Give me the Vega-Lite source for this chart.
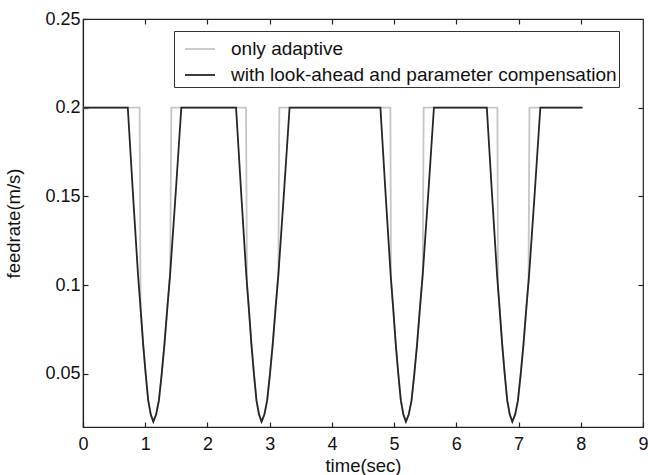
{
  "$schema": "https://vega.github.io/schema/vega-lite/v6.json",
  "width": 560,
  "height": 408,
  "autosize": {"type": "none"},
  "padding": {"left": 83, "top": 19, "right": 5, "bottom": 48},
  "background": "white",
  "config": {
    "font": "Liberation Sans",
    "view": {"stroke": "#222222", "strokeWidth": 1.2},
    "axis": {"grid": false, "tickColor": "#222222", "domainColor": "#222222", "domainWidth": 1.2, "tickWidth": 1.2, "labelColor": "#111111", "titleColor": "#111111", "titleFontWeight": "normal", "labelFont": "Liberation Sans", "titleFont": "Liberation Sans"},
    "legend": {"symbolType": "stroke", "symbolSize": 900, "symbolStrokeWidth": 1.8, "labelFontSize": 19, "labelOffset": 15, "padding": 2, "symbolOffset": 8, "rowPadding": -6, "strokeColor": "#333333", "fillColor": "white", "labelColor": "#111111", "labelFont": "Liberation Sans", "labelLimit": 600}
  },
  "datasets": {
    "gray": [
      {"t": 0, "v": 0.2, "s": "only adaptive"},
      {"t": 0.91, "v": 0.2, "s": "only adaptive"},
      {"t": 0.925, "v": 0.087, "s": "only adaptive"},
      {"t": 0.966, "v": 0.067, "s": "only adaptive"},
      {"t": 1.007, "v": 0.05, "s": "only adaptive"},
      {"t": 1.048, "v": 0.035, "s": "only adaptive"},
      {"t": 1.089, "v": 0.027, "s": "only adaptive"},
      {"t": 1.13, "v": 0.023, "s": "only adaptive"},
      {"t": 1.175, "v": 0.027, "s": "only adaptive"},
      {"t": 1.22, "v": 0.035, "s": "only adaptive"},
      {"t": 1.265, "v": 0.05, "s": "only adaptive"},
      {"t": 1.31, "v": 0.067, "s": "only adaptive"},
      {"t": 1.355, "v": 0.087, "s": "only adaptive"},
      {"t": 1.4, "v": 0.106, "s": "only adaptive"},
      {"t": 1.42, "v": 0.2, "s": "only adaptive"},
      {"t": 2.62, "v": 0.2, "s": "only adaptive"},
      {"t": 2.635, "v": 0.1, "s": "only adaptive"},
      {"t": 2.665, "v": 0.087, "s": "only adaptive"},
      {"t": 2.706, "v": 0.067, "s": "only adaptive"},
      {"t": 2.747, "v": 0.05, "s": "only adaptive"},
      {"t": 2.788, "v": 0.035, "s": "only adaptive"},
      {"t": 2.829, "v": 0.027, "s": "only adaptive"},
      {"t": 2.87, "v": 0.023, "s": "only adaptive"},
      {"t": 2.915, "v": 0.027, "s": "only adaptive"},
      {"t": 2.96, "v": 0.035, "s": "only adaptive"},
      {"t": 3.005, "v": 0.05, "s": "only adaptive"},
      {"t": 3.05, "v": 0.067, "s": "only adaptive"},
      {"t": 3.095, "v": 0.087, "s": "only adaptive"},
      {"t": 3.14, "v": 0.106, "s": "only adaptive"},
      {"t": 3.155, "v": 0.2, "s": "only adaptive"},
      {"t": 4.94, "v": 0.2, "s": "only adaptive"},
      {"t": 4.95, "v": 0.103, "s": "only adaptive"},
      {"t": 4.985, "v": 0.087, "s": "only adaptive"},
      {"t": 5.026, "v": 0.067, "s": "only adaptive"},
      {"t": 5.067, "v": 0.05, "s": "only adaptive"},
      {"t": 5.108, "v": 0.035, "s": "only adaptive"},
      {"t": 5.149, "v": 0.027, "s": "only adaptive"},
      {"t": 5.19, "v": 0.023, "s": "only adaptive"},
      {"t": 5.235, "v": 0.027, "s": "only adaptive"},
      {"t": 5.28, "v": 0.035, "s": "only adaptive"},
      {"t": 5.325, "v": 0.05, "s": "only adaptive"},
      {"t": 5.37, "v": 0.067, "s": "only adaptive"},
      {"t": 5.415, "v": 0.087, "s": "only adaptive"},
      {"t": 5.46, "v": 0.106, "s": "only adaptive"},
      {"t": 5.475, "v": 0.2, "s": "only adaptive"},
      {"t": 6.66, "v": 0.2, "s": "only adaptive"},
      {"t": 6.67, "v": 0.1, "s": "only adaptive"},
      {"t": 6.695, "v": 0.087, "s": "only adaptive"},
      {"t": 6.736, "v": 0.067, "s": "only adaptive"},
      {"t": 6.777, "v": 0.05, "s": "only adaptive"},
      {"t": 6.818, "v": 0.035, "s": "only adaptive"},
      {"t": 6.859, "v": 0.027, "s": "only adaptive"},
      {"t": 6.9, "v": 0.023, "s": "only adaptive"},
      {"t": 6.945, "v": 0.027, "s": "only adaptive"},
      {"t": 6.99, "v": 0.035, "s": "only adaptive"},
      {"t": 7.035, "v": 0.05, "s": "only adaptive"},
      {"t": 7.08, "v": 0.067, "s": "only adaptive"},
      {"t": 7.125, "v": 0.087, "s": "only adaptive"},
      {"t": 7.16, "v": 0.102, "s": "only adaptive"},
      {"t": 7.175, "v": 0.2, "s": "only adaptive"},
      {"t": 8.0, "v": 0.2, "s": "only adaptive"}
    ],
    "black": [
      {"t": 0, "v": 0.2, "s": "with look-ahead and parameter compensation"},
      {"t": 0.72, "v": 0.2, "s": "with look-ahead and parameter compensation"},
      {"t": 0.761, "v": 0.176, "s": "with look-ahead and parameter compensation"},
      {"t": 0.802, "v": 0.152, "s": "with look-ahead and parameter compensation"},
      {"t": 0.843, "v": 0.129, "s": "with look-ahead and parameter compensation"},
      {"t": 0.884, "v": 0.106, "s": "with look-ahead and parameter compensation"},
      {"t": 0.925, "v": 0.087, "s": "with look-ahead and parameter compensation"},
      {"t": 0.966, "v": 0.067, "s": "with look-ahead and parameter compensation"},
      {"t": 1.007, "v": 0.05, "s": "with look-ahead and parameter compensation"},
      {"t": 1.048, "v": 0.035, "s": "with look-ahead and parameter compensation"},
      {"t": 1.089, "v": 0.027, "s": "with look-ahead and parameter compensation"},
      {"t": 1.13, "v": 0.023, "s": "with look-ahead and parameter compensation"},
      {"t": 1.175, "v": 0.027, "s": "with look-ahead and parameter compensation"},
      {"t": 1.22, "v": 0.035, "s": "with look-ahead and parameter compensation"},
      {"t": 1.265, "v": 0.05, "s": "with look-ahead and parameter compensation"},
      {"t": 1.31, "v": 0.067, "s": "with look-ahead and parameter compensation"},
      {"t": 1.355, "v": 0.087, "s": "with look-ahead and parameter compensation"},
      {"t": 1.4, "v": 0.106, "s": "with look-ahead and parameter compensation"},
      {"t": 1.445, "v": 0.129, "s": "with look-ahead and parameter compensation"},
      {"t": 1.49, "v": 0.152, "s": "with look-ahead and parameter compensation"},
      {"t": 1.535, "v": 0.176, "s": "with look-ahead and parameter compensation"},
      {"t": 1.58, "v": 0.2, "s": "with look-ahead and parameter compensation"},
      {"t": 2.46, "v": 0.2, "s": "with look-ahead and parameter compensation"},
      {"t": 2.501, "v": 0.176, "s": "with look-ahead and parameter compensation"},
      {"t": 2.542, "v": 0.152, "s": "with look-ahead and parameter compensation"},
      {"t": 2.583, "v": 0.129, "s": "with look-ahead and parameter compensation"},
      {"t": 2.624, "v": 0.106, "s": "with look-ahead and parameter compensation"},
      {"t": 2.665, "v": 0.087, "s": "with look-ahead and parameter compensation"},
      {"t": 2.706, "v": 0.067, "s": "with look-ahead and parameter compensation"},
      {"t": 2.747, "v": 0.05, "s": "with look-ahead and parameter compensation"},
      {"t": 2.788, "v": 0.035, "s": "with look-ahead and parameter compensation"},
      {"t": 2.829, "v": 0.027, "s": "with look-ahead and parameter compensation"},
      {"t": 2.87, "v": 0.023, "s": "with look-ahead and parameter compensation"},
      {"t": 2.915, "v": 0.027, "s": "with look-ahead and parameter compensation"},
      {"t": 2.96, "v": 0.035, "s": "with look-ahead and parameter compensation"},
      {"t": 3.005, "v": 0.05, "s": "with look-ahead and parameter compensation"},
      {"t": 3.05, "v": 0.067, "s": "with look-ahead and parameter compensation"},
      {"t": 3.095, "v": 0.087, "s": "with look-ahead and parameter compensation"},
      {"t": 3.14, "v": 0.106, "s": "with look-ahead and parameter compensation"},
      {"t": 3.185, "v": 0.129, "s": "with look-ahead and parameter compensation"},
      {"t": 3.23, "v": 0.152, "s": "with look-ahead and parameter compensation"},
      {"t": 3.275, "v": 0.176, "s": "with look-ahead and parameter compensation"},
      {"t": 3.32, "v": 0.2, "s": "with look-ahead and parameter compensation"},
      {"t": 4.78, "v": 0.2, "s": "with look-ahead and parameter compensation"},
      {"t": 4.821, "v": 0.176, "s": "with look-ahead and parameter compensation"},
      {"t": 4.862, "v": 0.152, "s": "with look-ahead and parameter compensation"},
      {"t": 4.903, "v": 0.129, "s": "with look-ahead and parameter compensation"},
      {"t": 4.944, "v": 0.106, "s": "with look-ahead and parameter compensation"},
      {"t": 4.985, "v": 0.087, "s": "with look-ahead and parameter compensation"},
      {"t": 5.026, "v": 0.067, "s": "with look-ahead and parameter compensation"},
      {"t": 5.067, "v": 0.05, "s": "with look-ahead and parameter compensation"},
      {"t": 5.108, "v": 0.035, "s": "with look-ahead and parameter compensation"},
      {"t": 5.149, "v": 0.027, "s": "with look-ahead and parameter compensation"},
      {"t": 5.19, "v": 0.023, "s": "with look-ahead and parameter compensation"},
      {"t": 5.235, "v": 0.027, "s": "with look-ahead and parameter compensation"},
      {"t": 5.28, "v": 0.035, "s": "with look-ahead and parameter compensation"},
      {"t": 5.325, "v": 0.05, "s": "with look-ahead and parameter compensation"},
      {"t": 5.37, "v": 0.067, "s": "with look-ahead and parameter compensation"},
      {"t": 5.415, "v": 0.087, "s": "with look-ahead and parameter compensation"},
      {"t": 5.46, "v": 0.106, "s": "with look-ahead and parameter compensation"},
      {"t": 5.505, "v": 0.129, "s": "with look-ahead and parameter compensation"},
      {"t": 5.55, "v": 0.152, "s": "with look-ahead and parameter compensation"},
      {"t": 5.595, "v": 0.176, "s": "with look-ahead and parameter compensation"},
      {"t": 5.64, "v": 0.2, "s": "with look-ahead and parameter compensation"},
      {"t": 6.49, "v": 0.2, "s": "with look-ahead and parameter compensation"},
      {"t": 6.531, "v": 0.176, "s": "with look-ahead and parameter compensation"},
      {"t": 6.572, "v": 0.152, "s": "with look-ahead and parameter compensation"},
      {"t": 6.613, "v": 0.129, "s": "with look-ahead and parameter compensation"},
      {"t": 6.654, "v": 0.106, "s": "with look-ahead and parameter compensation"},
      {"t": 6.695, "v": 0.087, "s": "with look-ahead and parameter compensation"},
      {"t": 6.736, "v": 0.067, "s": "with look-ahead and parameter compensation"},
      {"t": 6.777, "v": 0.05, "s": "with look-ahead and parameter compensation"},
      {"t": 6.818, "v": 0.035, "s": "with look-ahead and parameter compensation"},
      {"t": 6.859, "v": 0.027, "s": "with look-ahead and parameter compensation"},
      {"t": 6.9, "v": 0.023, "s": "with look-ahead and parameter compensation"},
      {"t": 6.945, "v": 0.027, "s": "with look-ahead and parameter compensation"},
      {"t": 6.99, "v": 0.035, "s": "with look-ahead and parameter compensation"},
      {"t": 7.035, "v": 0.05, "s": "with look-ahead and parameter compensation"},
      {"t": 7.08, "v": 0.067, "s": "with look-ahead and parameter compensation"},
      {"t": 7.125, "v": 0.087, "s": "with look-ahead and parameter compensation"},
      {"t": 7.17, "v": 0.106, "s": "with look-ahead and parameter compensation"},
      {"t": 7.215, "v": 0.129, "s": "with look-ahead and parameter compensation"},
      {"t": 7.26, "v": 0.152, "s": "with look-ahead and parameter compensation"},
      {"t": 7.305, "v": 0.176, "s": "with look-ahead and parameter compensation"},
      {"t": 7.35, "v": 0.2, "s": "with look-ahead and parameter compensation"},
      {"t": 8.03, "v": 0.2, "s": "with look-ahead and parameter compensation"}
    ]
  },
  "layer": [
    {
      "data": {"name": "gray"},
      "mark": {"type": "line", "strokeWidth": 1.8, "clip": true},
      "encoding": {
        "x": {"field": "t", "type": "quantitative", "scale": {"domain": [0, 9], "nice": false, "zero": false},
              "axis": {"orient": "top", "values": [1, 2, 3, 4, 5, 6, 7, 8], "labels": false, "tickSize": -5, "domain": false, "title": null}},
        "y": {"field": "v", "type": "quantitative", "scale": {"domain": [0.02, 0.25], "nice": false, "zero": false},
              "axis": {"orient": "right", "values": [0.05, 0.1, 0.15, 0.2], "labels": false, "tickSize": -5, "domain": false, "title": null}},
        "color": {"field": "s", "type": "nominal",
                  "scale": {"domain": ["only adaptive", "with look-ahead and parameter compensation"], "range": ["#c6c6c6", "#262626"]},
                  "legend": {"orient": "none", "legendX": 91, "legendY": 12, "title": null}}
      }
    },
    {
      "data": {"name": "black"},
      "mark": {"type": "line", "strokeWidth": 1.8, "clip": true},
      "encoding": {
        "x": {"field": "t", "type": "quantitative", "scale": {"domain": [0, 9], "nice": false, "zero": false},
              "axis": {"orient": "bottom", "values": [0, 1, 2, 3, 4, 5, 6, 7, 8, 9], "format": "d", "tickSize": -5, "labelPadding": 13, "labelFontSize": 18, "labelFlush": false, "title": "time(sec)", "titleFontSize": 18.5, "titlePadding": 3}},
        "y": {"field": "v", "type": "quantitative", "scale": {"domain": [0.02, 0.25], "nice": false, "zero": false},
              "axis": {"orient": "left", "values": [0.05, 0.1, 0.15, 0.2, 0.25], "format": ".2~f", "tickSize": -5, "labelPadding": 8, "labelFontSize": 18, "labelFlush": false, "title": "feedrate(m/s)", "titleFontSize": 18.5, "titlePadding": 21}},
        "color": {"field": "s", "type": "nominal",
                  "scale": {"domain": ["only adaptive", "with look-ahead and parameter compensation"], "range": ["#c6c6c6", "#262626"]},
                  "legend": {"orient": "none", "legendX": 91, "legendY": 12, "title": null}}
      }
    }
  ],
  "resolve": {"axis": {"x": "independent", "y": "independent"}}
}
